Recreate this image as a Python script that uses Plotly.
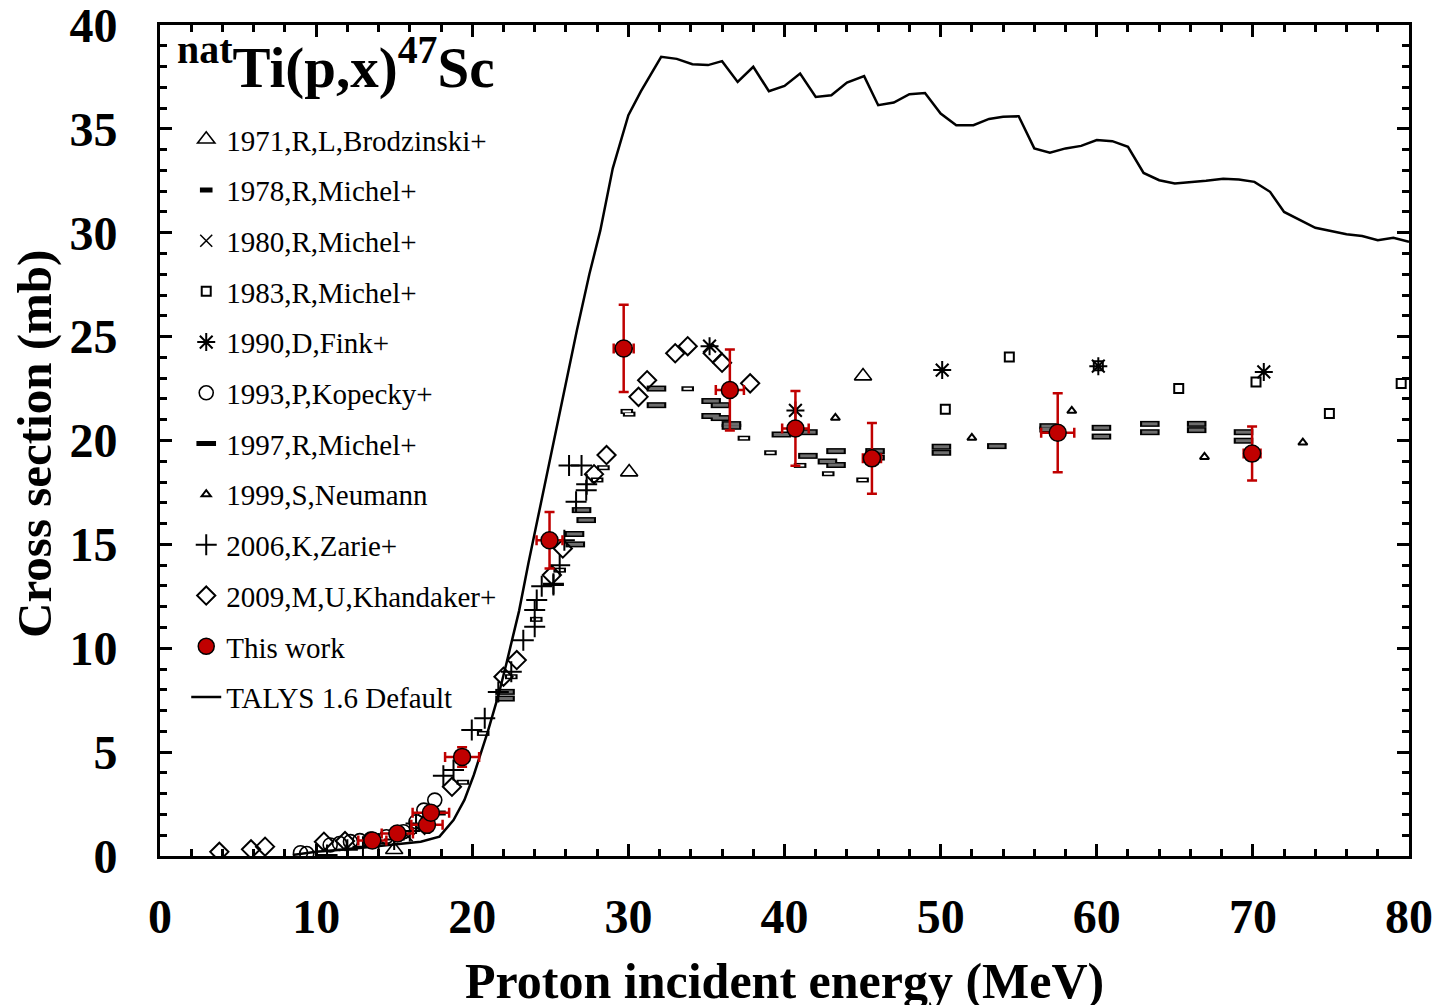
import plotly.graph_objects as go

# ---------------- data ----------------
talys_E = [8.5, 10, 12, 14, 15, 16, 16.7, 17.9, 18.8, 19.5, 20.1, 21.0, 21.7, 22.2, 23.0, 23.6, 24.5, 25.5, 26.7, 27.5, 28.2, 29.0, 30.0, 30.8, 32.1, 33.1, 34.1, 35.1, 36.0, 37.0, 38.0, 39.0, 40.0, 41.0, 42.0, 43.0, 44.0, 45.1, 46.0, 47.0, 48.0, 49.0, 50.0, 51.0, 52.1, 53.1, 54.0, 55.0, 56.0, 57.0, 58.0, 59.0, 60.0, 61.0, 62.0, 63.0, 64.0, 65.0, 66.0, 67.0, 68.1, 69.1, 70.1, 71.1, 72.0, 73.0, 74.0, 75.0, 76.0, 77.0, 78.0, 79.0, 80.0]
talys_S = [0.05, 0.2, 0.33, 0.47, 0.55, 0.63, 0.69, 0.93, 1.73, 2.7, 3.9, 6.0, 7.8, 9.3, 11.8, 14.1, 17.4, 21.0, 25.3, 28.0, 30.1, 33.1, 35.66, 36.8, 38.47, 38.37, 38.11, 38.07, 38.26, 37.26, 37.99, 36.81, 37.07, 37.66, 36.54, 36.62, 37.23, 37.54, 36.14, 36.27, 36.67, 36.73, 35.74, 35.18, 35.18, 35.48, 35.58, 35.61, 34.06, 33.85, 34.06, 34.18, 34.46, 34.41, 34.14, 32.88, 32.53, 32.37, 32.42, 32.5, 32.6, 32.56, 32.45, 31.97, 31.0, 30.61, 30.24, 30.08, 29.93, 29.84, 29.64, 29.76, 29.56]

work_E = [13.6, 15.2, 17.1, 17.35, 19.35, 24.95, 29.7, 36.5, 40.7, 45.6, 57.5, 69.95]
work_S = [0.75, 1.08, 1.5, 2.08, 4.77, 15.2, 24.43, 22.43, 20.58, 19.14, 20.37, 19.37]
work_dS = [0.1, 0.12, 0.15, 0.2, 0.47, 1.36, 2.1, 1.95, 1.8, 1.7, 1.9, 1.3]
work_dE = [0.9, 1.0, 1.0, 1.17, 1.09, 0.83, 0.64, 0.9, 0.85, 0.58, 1.06, 0.54]

brod1971_E = [15.0, 30.05, 45.03]
brod1971_S = [0.3, 18.48, 23.1]

mich1978_E = [17.9, 19.4, 20.7, 22.5, 24.1, 25.6, 28.0, 28.4, 29.9, 30.05, 33.8, 37.4, 39.1, 41.0, 42.8, 45.0]
mich1978_S = [2.07, 3.55, 5.9, 8.63, 11.39, 13.76, 18.1, 18.69, 21.4, 21.27, 22.49, 20.11, 19.41, 18.8, 18.4, 18.1]

mich1980_E = [15.8, 16.6]
mich1980_S = [1.0, 1.3]

mich1983_E = [50.3, 54.4, 60.1, 65.25, 70.2, 74.9, 79.5]
mich1983_S = [21.51, 24.02, 23.6, 22.5, 22.82, 21.3, 22.74]

fink1990_E = [35.2, 40.7, 50.1, 60.1, 70.7]
fink1990_S = [24.54, 21.45, 23.39, 23.58, 23.3]

kop1993_E = [9.0, 9.4, 10.9, 11.5, 12.2, 12.8, 13.5, 14.5, 15.6, 16.4, 16.9, 17.6]
kop1993_S = [0.16, 0.12, 0.53, 0.6, 0.69, 0.74, 0.82, 0.93, 1.17, 1.65, 2.21, 2.69]

mich1997_E = [22.1, 22.1, 26.55, 26.6, 27.0, 27.3, 31.8, 31.8, 35.3, 35.9, 35.3, 35.9, 36.6, 36.6, 39.8, 41.5, 41.5, 43.3, 42.75, 43.3, 45.8, 45.8, 50.05, 50.05, 53.6, 56.95, 56.95, 60.3, 60.3, 63.4, 63.4, 66.4, 66.4, 69.4, 69.4]
mich1997_S = [7.9, 7.58, 15.5, 15.0, 16.65, 16.17, 22.5, 21.7, 21.9, 21.7, 21.18, 21.08, 20.79, 20.66, 20.29, 20.4, 19.26, 19.49, 18.99, 18.82, 19.49, 19.18, 19.7, 19.41, 19.73, 20.69, 20.53, 20.61, 20.19, 20.8, 20.4, 20.8, 20.5, 20.4, 19.99]

neu1999_E = [43.26, 52.0, 58.4, 66.9, 73.2]
neu1999_S = [21.09, 20.13, 21.43, 19.21, 19.9]

zar2006_E = [10.7, 12.0, 13.0, 14.0, 15.0, 16.0, 16.4, 18.15, 18.8, 19.97, 20.8, 21.67, 22.5, 23.27, 24.0, 24.0, 24.13, 24.45, 25.2, 25.2, 25.6, 25.9, 26.2, 26.65, 27.0, 27.33, 27.3]
zar2006_S = [0.05, 0.3, 0.45, 0.6, 0.8, 1.2, 1.57, 3.86, 4.14, 6.06, 6.63, 7.9, 8.87, 10.39, 11.03, 11.84, 12.32, 12.99, 13.04, 13.1, 14.0, 15.2, 18.8, 17.05, 18.8, 17.9, 17.6]

kha2009_E = [3.8, 5.83, 6.73, 10.5, 11.85, 18.7, 22.0, 22.85, 25.1, 25.8, 27.8, 28.6, 30.65, 31.2, 33.0, 33.8, 35.4, 36.0, 37.8]
kha2009_S = [0.2, 0.32, 0.45, 0.69, 0.72, 3.33, 8.63, 9.43, 13.52, 14.8, 18.38, 19.3, 22.1, 22.9, 24.2, 24.54, 24.2, 23.74, 22.75]

x_ticks = [0, 10, 20, 30, 40, 50, 60, 70, 80]
y_ticks = [0, 5, 10, 15, 20, 25, 30, 35, 40]

FONT = "Liberation Serif"
RED = "#c00000"

fig = go.Figure()

def sc(x, y, name, symbol, size, lw, color="black", fill=None, rank=1, group=None, show=True):
    mk = dict(symbol=symbol, size=size, line=dict(width=lw, color=color))
    mk["color"] = fill if fill is not None else color
    fig.add_trace(go.Scatter(x=x, y=y, mode="markers", name=name, marker=mk,
                             legendrank=rank, legendgroup=group or name, showlegend=show))

sc(brod1971_E, brod1971_S, "1971,R,L,Brodzinski+", "triangle-up-open", 15, 1.6, rank=1)
sc(mich1978_E, mich1978_S, "1978,R,Michel+", "line-ew", 9, 5, rank=2, group="g78")
sc(mich1978_E, mich1978_S, "1978b", "line-ew", 6, 2, color="white", rank=2, group="g78", show=False)
sc(mich1980_E, mich1980_S, "1980,R,Michel+", "x-thin-open", 12, 1.5, rank=3)
sc(mich1983_E, mich1983_S, "1983,R,Michel+", "square-open", 9, 2, rank=4)
sc(fink1990_E, fink1990_S, "1990,D,Fink+", "asterisk-open", 15, 2, rank=5)
sc(kop1993_E, kop1993_S, "1993,P,Kopecky+", "circle-open", 14, 1.6, rank=6)
sc(mich1997_E, mich1997_S, "1997,R,Michel+", "line-ew", 14, 6, rank=7, group="g97")
sc(mich1997_E, mich1997_S, "1997b", "line-ew", 11, 3, color="#6e6e6e", rank=7, group="g97", show=False)
sc(neu1999_E, neu1999_S, "1999,S,Neumann", "triangle-up-open", 8, 2, rank=8)
sc(zar2006_E, zar2006_S, "2006,K,Zarie+", "cross-thin-open", 15, 2, rank=9)
sc(kha2009_E, kha2009_S, "2009,M,U,Khandaker+", "diamond-open", 14, 2, rank=10)

fig.add_trace(go.Scatter(x=talys_E, y=talys_S, mode="lines", name="TALYS 1.6 Default",
                         line=dict(color="black", width=2.5), legendrank=12))

fig.add_trace(go.Scatter(
    x=work_E, y=work_S, mode="markers", name="This work", legendrank=11,
    marker=dict(symbol="circle", size=17, color=RED, line=dict(width=1.5, color="black")),
    error_y=dict(type="data", array=work_dS, color=RED, thickness=2.5, width=5),
    error_x=dict(type="data", array=work_dE, color=RED, thickness=2.5, width=5),
))

axis_common = dict(showline=True, linewidth=3, linecolor="black", mirror="allticks",
                   ticks="inside", tickwidth=2.5, tickcolor="black", showgrid=False,
                   zeroline=False, ticklabeloverflow="allow",
                   tickfont=dict(family=FONT, size=48, color="black", weight="bold"))

fig.update_xaxes(range=[0, 80], tickvals=x_ticks, ticktext=[str(v) for v in x_ticks], ticklen=12,
                 minor=dict(dtick=2, ticks="inside", ticklen=7, tickwidth=2.5, tickcolor="black", showgrid=False),
                 ticklabelstandoff=16, **axis_common)
fig.update_yaxes(range=[0, 40], tickvals=y_ticks, ticktext=[str(v) for v in y_ticks], ticklen=12,
                 minor=dict(dtick=1, ticks="inside", ticklen=7, tickwidth=2.5, tickcolor="black", showgrid=False),
                 ticklabelstandoff=30, **axis_common)

# the page body adds an 8px offset; size/margins compensate so the plot area sits at 160..1409 x 25..856
fig.update_layout(
    width=1433, height=997,
    margin=dict(l=152, r=32, t=17, b=149, autoexpand=False),
    paper_bgcolor="white", plot_bgcolor="white",
    font=dict(family=FONT, color="black"),
    legend=dict(x=0.021, y=0.893, xanchor="left", yanchor="top", bgcolor="rgba(0,0,0,0)",
                font=dict(family=FONT, size=29, color="black"), tracegroupgap=10,
                itemsizing="trace"),
    annotations=[
        dict(text="<b><sup>nat</sup>Ti(p,x)<sup>47</sup>Sc</b>", xref="paper", yref="paper",
             x=0.012, y=1.0, xanchor="left", yanchor="top", showarrow=False,
             font=dict(family=FONT, size=57, color="black")),
        dict(text="<b>Proton incident energy (MeV)</b>", xref="paper", yref="paper",
             x=0.5, y=-0.15, xanchor="center", yanchor="middle", showarrow=False,
             font=dict(family=FONT, size=50, color="black")),
        dict(text="<b>Cross section (mb)</b>", xref="paper", yref="paper", textangle=-90,
             x=-0.1, y=0.496, xanchor="center", yanchor="middle", showarrow=False,
             font=dict(family=FONT, size=49, color="black")),
    ],
)

fig.write_html("out.html")
